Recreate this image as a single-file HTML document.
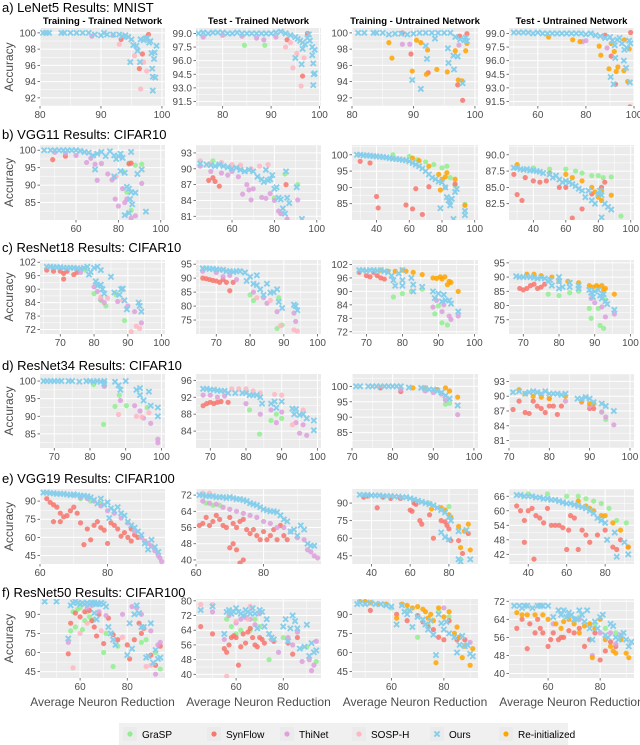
<!DOCTYPE html>
<html><head><meta charset="utf-8">
<style>
html,body{margin:0;padding:0;background:#fff;}
svg{display:block;font-family:"Liberation Sans",Arial,sans-serif;}
</style></head>
<body>
<svg id="chart" width="640" height="745" viewBox="0 0 640 745" xmlns="http://www.w3.org/2000/svg"></svg>
<script>
// ---------- data ----------
const seriesKeys = ["G","S","T","H","R","O"];
const seriesNames = ["GraSP","SynFlow","ThiNet","SOSP-H","Ours","Re-initialized"];
const rowTitles = ["a) LeNet5 Results: MNIST","b) VGG11 Results: CIFAR10","c) ResNet18 Results: CIFAR10","d) ResNet34 Results: CIFAR10","e) VGG19 Results: CIFAR100","f) ResNet50 Results: CIFAR100"];
const colTitles = ["Training - Trained Network","Test - Trained Network","Training - Untrained Network","Test - Untrained Network"];

const xDomains = [[80,100.5],[74.5,100.3],[80,100.5],[48,100],
 [43,102],[43,102],[25,102],[25,102],
 [64,101],[64,101],[66,101],[66,101],
 [66,101],[66,101],[70,101],[70,101],
 [60,97],[60,97],[30,95],[30,95],
 [43,96],[43,96],[45,93],[45,93]];
const xTicks = [[80,90,100],[80,90,100],[80,90,100],[60,80,100],
 [60,80,100],[60,80,100],[40,60,80,100],[40,60,80,100],
 [70,80,90,100],[70,80,90,100],[70,80,90,100],[70,80,90,100],
 [70,80,90,100],[70,80,90,100],[70,80,90,100],[70,80,90,100],
 [60,80],[60,80],[40,60,80],[40,60,80],
 [60,80],[60,80],[60,80],[60,80]];
const yDomains = [[91,100.6],[91,99.6],[91,100.6],[91,99.6],
 [80,101.5],[80.3,94.5],[80,103],[80,91.5],
 [70,103],[70,96.5],[71,104],[70,96],
 [81,102],[80,97.5],[80,104],[79.5,94.5],
 [38,100],[38,75],[38,102],[38,69],
 [40,102],[38,81],[40,102],[38,73]];
const yTicks = [[92,94,96,98,100],[91.5,93.0,94.5,96.0,97.5,99.0],[92,94,96,98,100],[91.5,93.0,94.5,96.0,97.5,99.0],
 [85,90,95,100],[81,84,87,90,93],[85,90,95,100],[82.5,85.0,87.5,90.0],
 [72,78,84,90,96,102],[75,80,85,90,95],[72,78,84,90,96,102],[75,80,85,90,95],
 [85,90,95,100],[84,88,92,96],[85,90,95,100],[81,84,87,90,93],
 [45,60,75,90],[40,48,56,64,72],[45,60,75,90],[42,48,54,60,66],
 [45,60,75,90],[40,48,56,64,72,80],[45,60,75,90],[40,48,56,64,72]];
const yTickDecimals = [0,1,0,1, 0,0,0,1, 0,0,0,0, 0,0,0,0, 0,0,0,0, 0,0,0,0];

const pa1={O:[80.5,100,81,100,81.5,100,83.5,100,84,100,85,100,86,100,87,100,88,100,89,99.8,90,99.7,90.5,100,91,99.8,92,99.8,93,99.8,93.5,99.6,94,99.7,94.5,99.5,95,99.2,95.3,98.5,95.8,98.4,96,97.8,96.5,99.2,97,99.1,97.3,99.3,97.6,99.4,97.9,98.8,98.1,99.0,98.3,97.5,98.4,95.6,98.5,94.6,98.7,96.8,98.8,97.6,98.9,94.5,99.1,98.4,98.5,92.9,94.8,96.4,96.4,96.4],
 T:[88.5,99.6,92,99.7,94,99.5],H:[93,98.6,95.5,97.2,96.5,93.1,97.5,95.3,96,98.0,97,96.4],S:[93.3,99.2,96.3,95.6,97.8,99.8,96.8,97.4]};
const pa2={O:[75,99,76,99.1,77,99,78,99.1,79,99.1,80,99.1,81,99,82,99,83,99.1,84,99,85,99,86,99,87,99,88,99,89,99,90,99,91,99.1,92,99.2,93,99,94,98.8,95,98.6,95.5,98.4,96,98.2,96.5,98.0,97,97.8,97.5,98.5,98,98.2,98.5,97.5,99,97.2,95,96.3,96.5,97.3,96.3,95.6,98.5,96.6,98.7,95.7,98.8,94.5,99,94.6,98.7,93.3,97.8,98.9],
 T:[76,98.6,80,98.8,84,98.7,87,98.5,88.5,98.3,91,98.6],G:[84.5,97.7,88.7,97.7],H:[93,97.5,94,98,94.5,95.2,95.3,96.8,96.2,93.2,96.8,96.3],S:[96.5,94.3,93.3,98.3,97.5,99]};
const pa3={O:[81,100,82,100,83.5,100,84,100,85,100,86,99.8,87,99.9,88,99.9,89,99.8,90,99.9,91,100,92,100,93,100,94,100,95,100,96,100,93.5,99.3,92,98.4,92.2,96.8,89.8,94.2,91.2,93.1,95.6,98.1,95.7,96.3,96.5,97.2,96.6,95.5,97.2,97.1,97.6,99.2,98,93.8,98.3,99.1,98.5,99.4,98.7,99.0,96.8,99.5],
 R:[86,98.8,86.5,96.9,89.8,95.3,90.5,99.1,91.2,98.8,92.3,97.9,92.1,94.9,93.8,95.5,95.5,95.2,96.8,97.8,97.3,94.2,97.9,94.1,98.5,97.8,98.7,98.7],
 S:[88.2,100,89.6,97.4,92.4,95.1,97.2,93.6,98,91.7,98.7,99.9,97.5,99.6],T:[88.2,98.6,89.4,98.6,97.4,98.5]};
const pa4={O:[50,99.1,52,99.1,54,99.1,56,99.1,58,99,60,99.1,62,99,64,99,66,99,68,99,70,99,72,99,74,99,76,99,78,99,80,98.9,82,99,84,98.8,86,98.7,88,98.5,90,98.6,91,98.2,92,97.7,93,98.3,94,98.5,95,97.9,96,97.2,97,97.4,98,98.2,98.5,97.9,92.2,96.3,95.8,96,96.7,95.2,90.3,94.2,91.5,93.4,98.3,93.6],
 R:[64.5,98.6,74.5,98.3,77.5,98.1,85.5,97.6,86.2,96.6,89.6,95.1,91.8,97,92.6,94.8,93.3,95.3,95.8,94.9,97.4,93.7,98,97.3,96,98.3,90.5,97.9],
 S:[90.5,96.5,92.3,93.4,98.3,90.9,98.6,99.1,88,98.8],T:[78.6,98.1,88.8,97.4,80,98.2]};
const pb1={O:[45,100,48,100,50,100,52,100,54,100,56,100,58,100,60,100,62,99.8,64,99.5,66,99.3,68,98.5,70,99,72,99.5,74,98.3,76,99.7,78,98.5,79,97.5,80,98.3,81,99,82,97.8,86,99.5,69,94.5,78,92.5,81,94,83,93.5,84,89.5,85,89,85.5,86,86,88,86.5,84.5,85,82,83,81.4,88,87.8,89,93.2,91,94.5,93,82.4],
 T:[50,99.4,55,99.1,60,98.5,65,96.5,67,97.7,69,96,70,91.4,72,96.2,75,93.2,77,91.5,78,92.2,78.5,86,80,84,82,89,83,85,86,80.5,88,81.2,91,90.5,84,86],
 G:[82,94,84,88,85,96.3,86,82.8,88,95.7,91,96],S:[49,97.3,55,98.3,86,96.3,85,96.1],H:[79,92.5]};
const pb2={O:[45,91,48,90.8,50,90.7,52,90.5,54,90.8,56,90.5,58,90.3,60,90,62,90.2,64,89.8,66,89.5,68,89.8,70,89.5,72,88.5,74,88,75,87.5,76,89.8,78,88,79,88.8,80,86.2,81,86.5,82,84.5,83,84.2,84,82.5,85,81.5,86,84.5,85.5,89.5,87,83.5,90.5,86.5,93,80.5,77,87.8],
 T:[45,90.5,50,89.5,55,89.2,58,88.8,60,89.5,63,88.5,65,85.2,67,87,68,86,70,86.2,69,84.1,74,84.6,76,84.4,78,85.3,80,84,82,82,83,81.5,86,80.5,91,84.1],
 H:[45,91.5,50,91,55,91.2,60,90.8,64,90.7,69,90,73,90.5,77,90.8],S:[49,87.8,51,88.3,52,87.6,54,86.7,85.5,87],G:[51,91.5,80,84.5,85,89,91,87]};
const pb3={O:[28,100,30,100,32,99.8,34,99.8,36,99.7,38,99.6,40,99.5,42,99.4,44,99.3,46,99.2,48,99,50,98.8,52,98.7,54,98.6,56,98.4,58,98.3,60,98,62,97.5,64,97,66,96.5,68,95.8,70,95,72,94,74,93,76,92.5,78,91.8,80,91.5,82,90,83,87,84,86,79,83.6,85,84.5,86,86.5,88,88.6,89,89.5,87,80.3,94,82.8,94,81.5],
 G:[50,100,60,99.5,65,98.5,70,97.8,75,97,80,96,83,96.5,85,93,88,90.5,94,84.8],R:[62,99,66,98.2,72,96.5,78,94,80,92.5,82,93.2,83,94.5,88,92.5,94,84.5,79,89.2],
 S:[30,98,36,97.5,40,87.2,41,83.7,58,84.6,62,83.4,64,89.6,68,81.7,72,90.2,88,91],T:[85,85.2,82,90]};
const pb4={O:[28,88,30,88,32,87.8,34,87.7,36,87.8,38,87.6,40,87.6,42,87.5,44,87.4,46,87.2,50,87,52,86.5,54,86.8,56,86.2,58,85.8,60,86,62,85.8,64,85.5,66,85.2,68,84.8,70,84.5,72,83.5,74,84.5,76,83,78,82.5,80,84,81,84.5,82,83.8,84,82.5,86,82,88,81.6,82,80.4],
 G:[40,88,50,87.8,60,87.8,66,87.5,70,87.2,76,86.8,80,86.8,83,86.5,88,86.6,94,80.6],R:[30,88.5,50,87.2,60,87,64,86.5,70,86,76,85,78,84.3,80,83.5,82,84.5,88,83.8,82,83],
 S:[28,87,30,83.9,33,83,35,86.5,40,86,44,85.8,48,86,56,85,60,85,64,80.3,70,81.7,76,84,82,85,84,85.8]};
const pc1={O:[66,100,67,100,68,99.8,69,99.8,70,99.8,71,99.5,72,99.5,73,99.5,74,99.5,75,99.3,76,99.2,77,99.5,78,100,79,97.6,80,99.5,81,100,82,98.5,78.5,96.5,80.5,93.5,81,91.5,82,92,82.5,90,83,88,85,95.5,86,88.5,87.5,87.5,88,90,88.5,90.2,89,85,89.7,81,93.2,84,93.5,82.5,94,80],
 S:[66,98.5,68,98,70,98,71,97,72,98,71,94.5,74,96.5,75,97.5],T:[76,97.5,80,91,81,89,82,85.5,83,84,87,84.5,90,82.5,92,80,94,75],
 G:[80,88,82,85,83.5,82.5,77.5,98.5,86.5,87.5,89,76],H:[82,86.5,84,86,88.5,85,91,71,93.5,72.5,92.5,73.5]};
const pc2={O:[66,93.5,67,93.5,68,93.3,69,93.3,70,93.2,71,93,72,93,73,92.5,74,92.5,75,92.2,76,92.5,77,92.5,78.5,92,79,89,80,90.5,81,88,82,87.5,82,91,83,86,84,84,85,88,86,84.8,87,85,88,86,88.5,81.5,89.5,79.3,93,80.5,93.5,80,94,78.5],
 S:[66,90,67,89.8,68,89.5,69,89.2,70,89,71,88.5,72,89.5,73,88.5,74,85.5,75,88.5],T:[66,92.5,70,92,72,90.5,74,91,76,89.5,81,85,84,83,85,81,88,78,93,77.5,93.5,74.5],
 G:[80,84,81,82,88,72,89.5,73.2,88.5,83],H:[82,83,86,82,89,73,93,71.5,94,71]};
const pc3={O:[68,99.5,69,99.5,70,99.2,71,99.5,72,99.5,73,99.2,74,99.5,75,99,76,98.5,77,97,77.5,95,78,92.5,79,98,80,99.5,80,95,80,92.5,82.5,96,83,93,83,90,85.5,92,88.5,90,89,87,90,89,91,85.5,91.5,88.5,92,86,93,86,93.5,84.5,95.5,81],
 R:[74,99.5,76,99,78,99,80,99.5,81,99,83,98.5,85.5,97.5,88.5,96,89.5,95.8,90.5,96.5,91,95.5,91.8,96.5,92.5,93,93,94.5,93.5,94,95.5,90],
 S:[68,98.5,70,97,71,96.5,72,98.5,73,97,74,96,75,95.5],G:[77.5,87.5,80,89,82.5,90,85.5,91,89,80,90,83.5,91,76,92.5,75],T:[88.5,83,89.5,86,91,81,91.5,84,93,79,93.5,77.5,95.5,79]};
const pc4={O:[68,90.3,69,90,70,90,71,90.2,72,90,73,89.8,74,89.5,75,89.8,76,89.5,77,88.5,77.5,89,78,87,80,88.5,80,90,80,86,81,86.5,83,86.5,83,88,85.5,87,85.5,86,88.5,85.5,89,84.5,89.5,83,90,85,91,85.5,91.5,83.5,92,82.5,92.5,84,93,81.5,93.5,80.5,95.5,78.5],
 R:[71,91,73,91,75,90.5,78,90,80,88.5,82.5,88.5,85.5,88,88.5,87,89.5,86.5,90.5,87,91,86.5,92,87,92.5,85.5,93,86,95.5,84],
 S:[69,86,70,85.5,71,86,72,87,73,87.5,74,86,75,86.5,76,87.5],G:[77,84,80,83.5,83,84.5,85.5,85,88.5,79,89,75.5,91,79,91.5,73,92.5,72,93,82],T:[89,82.5,90,81,92,79.5,93,76,95.5,77]};
const pd1={O:[67,100,68,100,69,100,70,100,71,100,72,100,74,100,75,100,77,99.8,79,100,80,100,81,99.8,82,100,83,99.8,84,100,84,99.3,87,99.8,88,98.8,88.5,97.5,90,100,93,97.5,94,98,94,96,95,94.5,96.5,97,97,93,99,92.5,99,90],
 G:[81,99,84,98.8,83.8,87.7,87,92.8,88.2,96,90.2,93,96,92.5],T:[84,98.5,88.5,94.5,92.5,93,94,91.5,95,89.5,97,88,99,82.5,99,83.5],H:[88,90.5,93,90,94.5,89.8,96.5,91]};
const pd2={O:[68,94,69,94,70,93.8,71,93.8,72,93.6,73,93.5,74,93.5,75,93,77,93,79,93,80,93,81,92.5,82,92.5,83,92.5,84,92,84.5,90.5,87,90.5,88,91,88.5,89.5,90,91,93,89.3,93.5,88,94,89.2,95,87.8,96,88,97,87,99,86.5,99,84.2],
 S:[68,90,69,90.5,70,90.8,71,90.5,72,90.8,73,91,75,90.8],T:[68,92.5,70,92.5,72,92,74,92.3,80,90.5,84,88,87,89,88.5,86,90,88.5,94,86,95,83.5,96,85.5,97,83],
 H:[76,94,78,94,80,94,82,93.5,84,93,88,92.7,90,92.5,93,85.5,96,89],G:[81,89,87,86.5,88.5,88,90,87,83.8,83.3]};
const pd3={O:[71,100,72,100,74,100,75,100,76,100,77,100,78,100,79,100,80,100,81,100,82,100,84,99.6,87,99.5,88,99.3,89,99,90,99,91,98.5,92,98,93,97,94,96,96,93.8],
 R:[85,99.5,88,99.5,91,99,93,99.5,94,98.5,96,96.5],T:[82,99,88,98.5,90,98,92,97.5,93,95.5,96,90.8],G:[93,94.2,94,94.5],S:[77,99.5,82,98.3]};
const pd4={O:[71,90.8,72.5,91,74,90.5,75,90.8,76,91,77,90.8,78,90.5,79,91,80,90.5,81,90.5,82,90.5,83,90.3,84,90.5,87,89.5,88,89.5,89,89.8,90,89.5,91,88.8,93,88.5,94,88,96,87],
 R:[72.5,91.3,74,90.5,76,90,78,89.8,80,89.5,84,90,88,89,90,88.5,91,88.5],
 S:[71,87.3,72.5,89,74,86.7,75,86.5,76,89,77,88,78,87.5,79,86.7,80,88,81,88,82,86.3,83,88,90,87.5,91,87.5],T:[80,89.5,84,89,88,88.8,90,88,93,86.8,94,85.8,96,84.2],G:[93,86.8,94,85.3,91,88.5]};
const pe1={O:[61,97,62,97,63,96.5,64,96.5,65,96,66,96,67,96,68,95.5,69,95,70,95.5,71,95,72,94.5,73,94.5,74,94,75,93,76,91,77,88,78,92,79,87,80,89,80.5,76,81,84,82,82,83,85,84,80,85,78,86,73,87,70,88,68,89,65,90,62,91,55,92,50,93,58,94,52,95,48],
 T:[70,95,72,93,74,92,76,90,78,86,80,82,82,80,84,76,86,72,88,65,90,60,91,57,92,55,93,53,94,49,95,45,96,40,95.5,43],G:[72,92,75,90,78,88],
 S:[62,92,63,89,64,87,65,85,66,80,64,73,66,73,67,77,68,78,69,82,70,85,71,80,72,72,73,54,74,67,75,58,76,70,77,73,78,68,79,66,80,55,81,72,82,70,83,67,84,61,85,64,86,60,87,67,88,62,89,60,87,57]};
const pe2={O:[61,72,62,72,63,71.5,64,71.5,65,71.5,66,71,67,71,68,71,69,70.5,70,71,71,70.5,72,70,73,70,74,69.5,75,69,76,68,77,67.5,78,67,79,66,80,65,81,64.5,82,64,83,64,84,63.5,85,62,86,60,87,59,88,54,89,55,90,52,91,57,92,55,93,48,94,47,95,47],
 T:[62,69,64,68,66,67.5,68,66,70,65,72,64,74,63,76,62,78,61,80,59,82,58,84,56,86,56,88,54,90,51,92,50,93,45,94,44,95,42,96,41],G:[63,68,65,67,67,67],H:[62,73,64,73],
 S:[61,57,62,58,63,61,64,57,65,59,66,62,67,60,68,57,69,56,70,61,71,58,72,56,73,59,74,60,75,55,76,53,77,55,78,52,79,50,80,54,81,50,82,52,83,55,84,50,85,57,86,52,87,50,70,46,71,48,72,45,73,38.5,74,40]};
const pe3={O:[34,97,36,97,38,97,40,96.5,42,96.5,44,96.5,46,96,48,96,50,96,52,95.5,54,95.5,56,95,58,95,60,94,62,93,64,92,66,91,68,90,70,89,72,88,74,86,76,84,78,82,80,78,81,75,76,65,78,61,80,59,85,66,85,42,86,40,89,67,91,42],
 R:[71,85,76,86,78,84,80,80,81,78,85,70,86,52,88,66,90,72,91,50],
 S:[36,95,38,96,43,86,46,95,50,94,55,94,60,84,61,83,62,90,63,89,65,75,66,72,70,80,72,60,76,75,78,74,79,71,80,68,81,58,85,58,87,47,90,64],G:[70,90,80,87,86,42]};
const pe4={O:[34,66.5,36,66.5,38,66,40,66,42,66,44,65.5,46,65.5,48,65,50,65,52,64.5,54,64.5,56,64,58,63.5,60,63,62,63,64,62.5,66,62,68,61.5,70,61,72,60,74,59,76,57,78,56,80,55,81,48,85,51,86,41,90,47,92,42],
 G:[40,67,50,67,60,66,66,66,70,65,74,64,78,63,82,61,86,56,91,55],R:[66,64,70,62,72,61,74,60,78,58,80,58,84,55,88,52,92,45],
 S:[34,62,36,60,38,56,38,47,40,60,42,61,43,40,44,58,46,57,48,55,50,61,52,54,54,54,56,54,58,53,60,44,61,52,62,58,64,57,66,44,68,52,70,50,72,47,76,50,80,52,84,45,86,44,88,48,92,45]};
const pf1={O:[45,100,50,100,56,97,57,99,58,100,59,99,60,98,61,99,62,98,63,99,64,98,65,99,66,99,67,98,68,98,69,99,70,98,71,96,72,80,55,71,66,91,67,86,73,75,74,70,75,66,80,58,81,83,82,63,83,90,84,97,85,91,86,80,87,80,88,56,89,57,90,83,91,52,92,62,93,55,94,56],
 G:[56,77,57,92,58,80,59,94,60,95,61,78,62,85,63,92,64,88,65,85,66,86,70,60,71,75,74,49,76,65,86,68,88,70,92,60,94,47],
 S:[55,59,56,83,58,91,60,88,62,92,64,93,65,85,66,80,67,73,68,90,70,67,72,87,74,74,76,70,80,66,81,55,83,70,85,83,86,75,87,79,90,58,92,50,94,65],
 T:[55,68,63,95,65,97,68,92,71,89,78,90,82,96,84,95,86,90,90,77,92,43,93,66,94,68],H:[57,48,60,75,63,83,69,77,78,72,88,49,90,50]};
const pf2={O:[45,75,50,77,55,62,56,74,57,75,58,73,59,74,60,76,61,74,62,73,63,72,64,75,65,74,66,73,67,76,68,73,69,65,70,75,71,74,72,66,73,70,74,62,75,60,76,59,80,66,81,70,82,58,83,65,84,72,85,69,86,65,87,54,89,55,90,67,91,50,92,57,93,52,94,53],
 S:[45,66,50,62,55,54,56,52,57,56,58,60,59,61,60,60,61,45,62,55,63,62,64,57,65,63,66,65,67,60,68,56,69,55,70,60,71,59,72,57,76,58,82,57,84,51,86,60],
 T:[50,74,55,59,57,72,60,68,62,70,64,71,66,70,68,67,70,73,75,59,78,52,82,60,84,56,86,63,88,47,91,48,92,42,93,45,94,58],
 G:[56,70,58,66,60,62,62,64,66,64,68,70,70,66,74,48,80,60,90,55,94,47],H:[45,78,50,78,56,39,60,69,65,70,66,77]};
const pf3={O:[47,98,48,99,50,98,52,99,54,98,56,98,58,97,60,96,62,82,64,97,65,92,66,90,67,93,68,80,70,88,72,86,73,82,74,78,75,85,76,74,77,58,78,90,79,83,80,78,81,84,82,75,84,72,85,60,86,66,87,73,88,65,89,66,90,59,91,57],
 R:[48,100,50,100,52,99,55,98,58,98,62,87,64,98,66,97,68,95,70,96,72,94,73,92,74,87,75,90,76,85,77,52,78,95,80,88,82,92,84,75,85,80,86,72,87,56,88,65,90,50,91,63],
 S:[52,93,62,90,66,85,70,89,72,84,74,80,76,78,78,72,80,70,82,85,85,70,88,70],G:[60,95,66,93,70,72,74,82,78,92,82,88],T:[80,95,86,72,90,68]};
const pf4={O:[47,70,49,70,50,69,51,70,52,70,54,69,56,70,57,70,58,70,60,70,62,65,64,68,65,66,66,68,67,65,68,67,69,66,70,64,71,64,72,68,73,66,74,63,75,68,76,60,77,55,78,63,79,60,80,65,81,66,82,57,83,56,84,62,85,61,86,56,87,55,88,57,89,58,90,55,91,52,92,54],
 R:[48,67,50,66,52,66,55,66,58,66,60,64,63,62,65,60,66,63,68,64,70,62,72,58,74,61,76,62,77,47,78,60,80,64,82,55,84,52,85,50,86,49,88,55,90,49,91,47],
 S:[48,60,50,64,52,51,53,62,55,58,56,64,57,60,58,58,60,52,61,55,62,58,64,55,65,56,66,56,68,59,70,58,72,60,74,52,76,55,78,58,80,46,82,50,84,54,86,52],
 T:[62,62,68,66,72,64,77,48,80,58,84,58,86,53,88,57],G:[72,65,78,62,82,60,86,58]};

const panels = [pa1,pa2,pa3,pa4,pb1,pb2,pb3,pb4,pc1,pc2,pc3,pc4,pd1,pd2,pd3,pd4,pe1,pe2,pe3,pe4,pf1,pf2,pf3,pf4];

// ---------- layout ----------
const colL=[40,196,352,509], colR=[165,321,478,634];
const rowT=[28,145,260,374,489,599], rowB=[106,220,334,448,564,678];
const titleY=[12,139,252,370,483,597];
const colors={G:"#90ee90",S:"#f8766d",T:"#dda0dd",H:"#ffb6c1",O:"#87ceeb",R:"#ffa500"};
const NS="http://www.w3.org/2000/svg";
const svg=document.getElementById('chart');
function mk(tag,attrs,parent){const e=document.createElementNS(NS,tag);for(const k in attrs)e.setAttribute(k,attrs[k]);(parent||svg).appendChild(e);return e;}

function drawX(g,cx,cy,col){
  const s=2.6;
  const p=mk('path',{d:`M${cx-s},${cy-s}L${cx+s},${cy+s}M${cx-s},${cy+s}L${cx+s},${cy-s}`,stroke:col,'stroke-width':1.9,fill:'none'},g);
  
  
}

rowTitles.forEach((t,r)=>{
  const e=mk('text',{x:2,y:titleY[r],'font-size':13,fill:'#000'});
  e.textContent=t;
  
  
});
colTitles.forEach((t,c)=>{
  const e=mk('text',{x:(colL[c]+colR[c])/2,y:24,'font-size':9.5,'font-weight':'bold','text-anchor':'middle',fill:'#000'});
  e.textContent=t;
  
  
});

panels.forEach((pd,i)=>{
  const r=Math.floor(i/4), c=i%4;
  const L=colL[c],R=colR[c],T=rowT[r],B=rowB[r];
  const [x0,x1]=xDomains[i],[y0,y1]=yDomains[i];
  const sx=v=>L+(v-x0)/(x1-x0)*(R-L);
  const sy=v=>B-(v-y0)/(y1-y0)*(B-T);
  const g=mk('g',{});
  
  
  mk('rect',{x:L,y:T,width:R-L,height:B-T,fill:'#ebebeb'},g);
  const xt=xTicks[i], yt=yTicks[i];
  // minor grid
  const dx=xt.length>1?xt[1]-xt[0]:10, dy=yt[1]-yt[0];
  for(let v=xt[0]-dx/2; v<=x1; v+=dx){ if(v>=x0) mk('line',{x1:sx(v),x2:sx(v),y1:T,y2:B,stroke:'#fff','stroke-width':0.5},g); }
  for(let v=yt[0]-dy/2; v<=y1; v+=dy){ if(v>=y0) mk('line',{y1:sy(v),y2:sy(v),x1:L,x2:R,stroke:'#fff','stroke-width':0.5},g); }
  xt.forEach(v=>{
    mk('line',{x1:sx(v),x2:sx(v),y1:T,y2:B,stroke:'#fff','stroke-width':1},g);
    mk('line',{x1:sx(v),x2:sx(v),y1:B,y2:B+2.5,stroke:'#555','stroke-width':0.8},g);
    const e=mk('text',{x:sx(v),y:B+12,'font-size':10,'text-anchor':'middle',fill:'#4d4d4d'},g);
    e.textContent=v;
    
    
  });
  yt.forEach(v=>{
    mk('line',{y1:sy(v),y2:sy(v),x1:L,x2:R,stroke:'#fff','stroke-width':1},g);
    mk('line',{y1:sy(v),y2:sy(v),x1:L-2.5,x2:L,stroke:'#555','stroke-width':0.8},g);
    const e=mk('text',{x:L-4,y:sy(v)+3.5,'font-size':10,'text-anchor':'end',fill:'#4d4d4d'},g);
    e.textContent=v.toFixed(yTickDecimals[i]);
    
    
  });
  const cg=mk('g',{'clip-path':''},g);
  const cid='clip'+i;
  const cp=mk('clipPath',{id:cid},g); mk('rect',{x:L,y:T,width:R-L,height:B-T},cp);
  cg.setAttribute('clip-path','url(#'+cid+')');
  ["G","S","T","H","R","O"].forEach(k=>{
    const arr=pd[k]; if(!arr) return;
    for(let j=0;j<arr.length;j+=2){
      const px=sx(arr[j]), py=sy(arr[j+1]);
      if(k==="O"){ drawX(cg,px,py,colors.O); }
      else{
        const e=mk('circle',{cx:px,cy:py,r:2.6,fill:colors[k],'fill-opacity':0.85},cg);
        
        
      }
    }
  });
  if(c===0){
    const e=mk('text',{x:0,y:0,'font-size':12,'text-anchor':'middle',fill:'#4d4d4d',transform:`translate(13,${(T+B)/2}) rotate(-90)`},g);
    e.textContent='Accuracy';
    
    
  }
  if(r===5){
    const e=mk('text',{x:(L+R)/2,y:706,'font-size':12,'text-anchor':'middle',fill:'#4d4d4d'},g);
    e.textContent='Average Neuron Reduction';
    
    
  }
});

// legend
const lg=mk('g',{});


mk('rect',{x:119,y:723,width:449,height:22,fill:'#f0f0f0'},lg);
const legX=[130,214,287,359,437,506];
const legKeys=["G","S","T","H","O","R"];
const legNames=["GraSP","SynFlow","ThiNet","SOSP-H","Ours","Re-initialized"];
legKeys.forEach((k,j)=>{
  const it=mk('g',{},lg);
  
  
  mk('rect',{x:legX[j]-7,y:727,width:14,height:14,fill:'#ebebeb'},it);
  if(k==="O") drawX(it,legX[j],734,colors.O);
  else mk('circle',{cx:legX[j],cy:734,r:2.6,fill:colors[k]},it);
  const t=mk('text',{x:legX[j]+12,y:738,'font-size':10,fill:'#000'},it);
  t.textContent=legNames[j];
});
</script>
</body></html>
